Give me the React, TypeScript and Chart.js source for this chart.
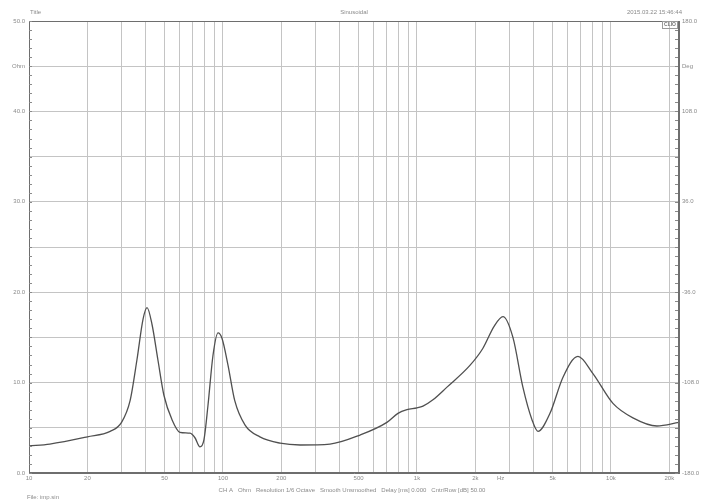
import React, { useEffect, useRef } from "react";
import { Chart, registerables } from "chart.js";

Chart.register(...registerables);

// Impedance curve (Hz, Ohm)
const freqHz = [
  10, 12.8, 20, 26.2, 30, 33.2, 36.0, 38.7, 40.6, 43.1, 46.2, 49.6, 54.6, 60, 67.6, 71.7,
  76.1, 79.8, 83.7, 88.8, 94.3, 98.8, 106, 115, 130, 155, 197, 250, 356, 509, 700, 798,
  888, 1000, 1074, 1209, 1428, 1875, 2188, 2494, 2775, 3124, 3516, 3916, 4204, 4850, 5660,
  6760, 8075, 10240, 12980, 17260, 22430,
];
const impedanceOhm = [
  3.0, 3.2, 4.0, 4.6, 5.6, 8.0, 12.5, 17.0, 18.3, 16.4, 12.5, 8.6, 5.9, 4.5, 4.4, 3.9,
  2.9, 3.7, 7.5, 13.0, 15.5, 14.9, 12.0, 8.0, 5.3, 4.0, 3.3, 3.1, 3.2, 4.2, 5.6, 6.6,
  7.0, 7.2, 7.4, 8.1, 9.5, 11.9, 13.8, 16.2, 17.3, 15.0, 9.5, 5.9, 4.6, 6.6, 10.6,
  12.9, 11.0, 7.7, 6.1, 5.2, 5.6,
];

const xMin = 10;
const xMax = 22430;
const xGridValues = [
  10, 20, 30, 40, 50, 60, 70, 80, 90, 100, 200, 300, 400, 500, 600, 700, 800, 900,
  1000, 2000, 3000, 4000, 5000, 6000, 7000, 8000, 9000, 10000, 20000,
];
// "Hz" unit label sits between the 2k and 3k lines
const unitTickValue = 2700;
const xTickValues = [10, 20, 50, 100, 200, 500, 1000, 2000, 2700, 5000, 10000, 20000];
const xTickLabels = ["10", "20", "50", "100", "200", "500", "1k", "2k", "Hz", "5k", "10k", "20k"];

const leftTickValues = [50, 45, 40, 30, 20, 10, 0];
const leftTickLabels = ["50.0", "Ohm", "40.0", "30.0", "20.0", "10.0", "0.0"];
const rightTickValues = [180, 144, 108, 36, -36, -108, -180];
const rightTickLabels = ["180.0", "Deg", "108.0", "36.0", "-36.0", "-108.0", "-180.0"];

const headerLeft = "Title";
const headerCenter = "Sinusoidal";
const headerRight = "2015.03.22 15:46:44";
const footerText =
  "CH A   Ohm   Resolution 1/6 Octave   Smooth Unsmoothed   Delay [ms] 0.000   Cntr/Row [dB] 50.00";
const fileText = "File: imp.sin";

const FONT = '6px "Liberation Sans", Arial, sans-serif';
const TEXT = "#8a8a8a";
const GRID = "#c4c4c4";
const AXIS = "#6e6e6e";

const decorPlugin = {
  id: "decor",
  afterDraw(chart: any) {
    const { ctx, chartArea } = chart;
    const { left, right, top, bottom } = chartArea;
    const y = chart.scales.y;
    const y2 = chart.scales.y2;
    ctx.save();
    ctx.strokeStyle = AXIS;
    ctx.lineWidth = 1;
    ctx.strokeRect(Math.round(left) + 0.5, Math.round(top) + 0.5, Math.round(right - left) - 1, Math.round(bottom - top) - 1);
    // minor ticks
    ctx.strokeStyle = "#8a8a8a";
    ctx.beginPath();
    for (let v = 0; v <= 50; v++) {
      const py = Math.round(y.getPixelForValue(v)) + 0.5;
      ctx.moveTo(left, py);
      ctx.lineTo(left + 3, py);
    }
    for (let i = 0; i <= 50; i++) {
      const v = -180 + i * 7.2;
      const py = Math.round(y2.getPixelForValue(v)) + 0.5;
      ctx.moveTo(right - 4, py);
      ctx.lineTo(right - 1, py);
    }
    ctx.stroke();
    // texts
    ctx.font = FONT;
    ctx.fillStyle = TEXT;
    ctx.textBaseline = "middle";
    ctx.textAlign = "left";
    ctx.fillText(headerLeft, 30, 12);
    ctx.textAlign = "center";
    ctx.fillText(headerCenter, 354, 12);
    ctx.textAlign = "right";
    ctx.fillText(headerRight, 682, 12);
    ctx.textAlign = "center";
    ctx.fillText(footerText, 352, 490);
    ctx.textAlign = "left";
    ctx.fillText(fileText, 27, 497);
    // CLIO box
    ctx.strokeStyle = "#9a9a9a";
    ctx.strokeRect(662.5, 21.5, 15, 7);
    ctx.fillStyle = "#777";
    ctx.textAlign = "center";
    ctx.font = 'bold 5px "Liberation Sans", Arial, sans-serif';
    ctx.fillText("CLIO", 670, 25);
    ctx.restore();
  },
};

export default function App() {
  const canvasRef = useRef<HTMLCanvasElement | null>(null);

  useEffect(() => {
    document.body.style.margin = "0";
    const canvas = canvasRef.current;
    if (!canvas) return;
    const points = freqHz.map((f, i) => ({ x: f, y: impedanceOhm[i] }));
    const tickList = [...xGridValues, unitTickValue].sort((a, b) => a - b);
    const chart = new Chart(canvas, {
      type: "line",
      data: {
        datasets: [
          {
            data: points,
            borderColor: "#505050",
            borderWidth: 1.3,
            pointRadius: 0,
            cubicInterpolationMode: "monotone",
            fill: false,
          },
        ],
      },
      options: {
        animation: false,
        responsive: false,
        maintainAspectRatio: false,
        layout: { padding: { top: 21, left: 0, right: 0, bottom: 0 } },
        plugins: { legend: { display: false }, tooltip: { enabled: false } },
        scales: {
          x: {
            type: "logarithmic",
            min: xMin,
            max: xMax,
            position: "bottom",
            afterBuildTicks: (scale: any) => {
              scale.ticks = tickList.map((v) => ({ value: v }));
            },
            afterFit: (scale: any) => {
              scale.height = 28;
            },
            ticks: {
              autoSkip: false,
              maxRotation: 0,
              minRotation: 0,
              padding: 2,
              color: TEXT,
              font: { size: 6, family: '"Liberation Sans", Arial, sans-serif' },
              callback: (v: any) => {
                const idx = xTickValues.indexOf(Math.round(Number(v)));
                return idx >= 0 ? xTickLabels[idx] : "";
              },
            },
            grid: {
              color: (c: any) => (c.tick && c.tick.value === unitTickValue ? "rgba(0,0,0,0)" : GRID),
              lineWidth: 1,
              drawTicks: false,
            },
            border: { display: true, color: AXIS },
          },
          y: {
            type: "linear",
            position: "left",
            min: 0,
            max: 50,
            afterFit: (scale: any) => {
              scale.width = 29;
            },
            ticks: {
              stepSize: 5,
              padding: 4,
              color: TEXT,
              font: { size: 6, family: '"Liberation Sans", Arial, sans-serif' },
              callback: (v: any) => {
                const idx = leftTickValues.indexOf(Math.round(Number(v)));
                return idx >= 0 ? leftTickLabels[idx] : "";
              },
            },
            grid: { color: GRID, lineWidth: 1, drawTicks: false },
            border: { display: true, color: AXIS },
          },
          y2: {
            type: "linear",
            position: "right",
            min: -180,
            max: 180,
            afterFit: (scale: any) => {
              scale.width = 26;
            },
            ticks: {
              stepSize: 36,
              padding: 3,
              color: TEXT,
              font: { size: 6, family: '"Liberation Sans", Arial, sans-serif' },
              callback: (v: any) => {
                const idx = rightTickValues.indexOf(Math.round(Number(v)));
                return idx >= 0 ? rightTickLabels[idx] : "";
              },
            },
            grid: { display: false, drawTicks: false },
            border: { display: true, color: AXIS },
          },
        },
      },
      plugins: [decorPlugin],
    } as any);
    return () => chart.destroy();
  }, []);

  return (
    <div style={{ width: 705, height: 501, background: "#fff" }}>
      <canvas ref={canvasRef} width={705} height={501} style={{ display: "block" }} />
    </div>
  );
}
